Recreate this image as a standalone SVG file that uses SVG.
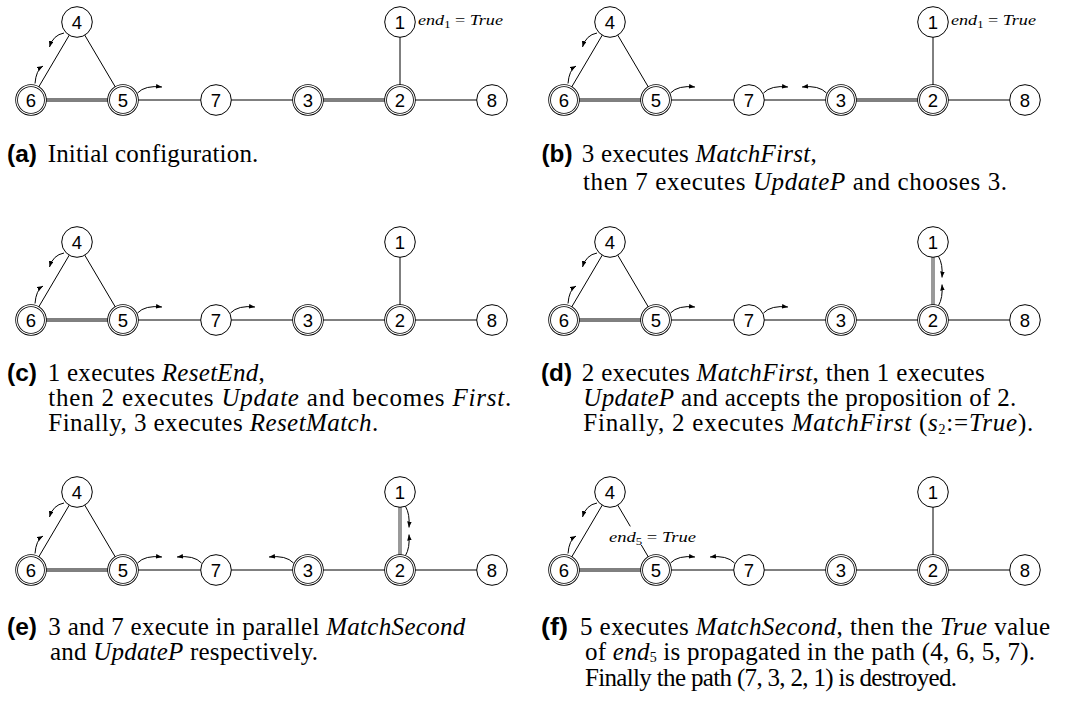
<svg xmlns="http://www.w3.org/2000/svg" width="1075" height="702" viewBox="0 0 1075 702">
<defs>
<marker id="ah" viewBox="0 0 6 4.6" refX="6" refY="2.3" markerWidth="6" markerHeight="4.6" markerUnits="userSpaceOnUse" orient="auto"><path d="M0,0 L6,2.3 L0,4.6 z" fill="#000"/></marker>
<style>
.s{fill:#fff;stroke:#000;stroke-width:1}
.d1{fill:#fff;stroke:#000;stroke-width:2.7}
.d2{fill:none;stroke:#fff;stroke-width:1.1}
.nl{font-family:"Liberation Sans",Arial,sans-serif;font-size:18.5px;text-anchor:middle;fill:#000}
.e{stroke:#000;stroke-width:1;fill:none}
.eo{stroke:#000;stroke-width:2.8}
.ei{stroke:#fff;stroke-width:1.2}
.ar{fill:none;stroke:#000;stroke-width:1;marker-end:url(#ah)}
.cap{font-family:"Liberation Serif","Times New Roman",serif;font-size:25px;fill:#000}
.lab{font-family:"Liberation Sans",Arial,sans-serif;font-weight:bold;font-size:23px;fill:#000}
.it{font-style:italic}
.sb{font-size:14px}
.math{font-family:"Liberation Serif","Times New Roman",serif;font-style:italic;font-size:14.5px;fill:#000}
.up{font-style:normal}
</style>
</defs>
<rect width="1075" height="702" fill="#fff"/>

<!-- Panel a -->
<g id="panel-a">
<g id="a-edges">
<line class="e" x1="77" y1="22" x2="31" y2="100"/>
<line class="e" x1="77" y1="22" x2="123" y2="100"/>
<line class="e" x1="123" y1="100" x2="216" y2="100"/>
<line class="e" x1="216" y1="100" x2="308" y2="100"/>
<line class="e" x1="400" y1="100" x2="492" y2="100"/>
<line class="e" x1="400" y1="22" x2="400" y2="100"/>
<line class="eo" x1="31" y1="100" x2="123" y2="100"/><line class="ei" x1="31" y1="100" x2="123" y2="100"/>
<line class="eo" x1="308" y1="100" x2="400" y2="100"/><line class="ei" x1="308" y1="100" x2="400" y2="100"/>
</g>
<g id="a-n4"><circle class="s" cx="77" cy="22" r="15.3"/><text class="nl" x="77" y="28.6">4</text></g>
<g id="a-n6"><circle class="d1" cx="31" cy="100" r="14.4"/><circle class="d2" cx="31" cy="100" r="14.4"/><text class="nl" x="31" y="106.6">6</text></g>
<g id="a-n5"><circle class="d1" cx="123" cy="100" r="14.4"/><circle class="d2" cx="123" cy="100" r="14.4"/><text class="nl" x="123" y="106.6">5</text></g>
<g id="a-n7"><circle class="s" cx="216" cy="100" r="15.3"/><text class="nl" x="216" y="106.6">7</text></g>
<g id="a-n3"><circle class="d1" cx="308" cy="100" r="14.4"/><circle class="d2" cx="308" cy="100" r="14.4"/><text class="nl" x="308" y="106.6">3</text></g>
<g id="a-n2"><circle class="d1" cx="400" cy="100" r="14.4"/><circle class="d2" cx="400" cy="100" r="14.4"/><text class="nl" x="400" y="106.6">2</text></g>
<g id="a-n8"><circle class="s" cx="492" cy="100" r="15.3"/><text class="nl" x="492" y="106.6">8</text></g>
<g id="a-n1"><circle class="s" cx="400" cy="22" r="15.3"/><text class="nl" x="400" y="28.6">1</text></g>
<g id="a-arrows">
<path class="ar" d="M64,33 Q53,35 49.5,47"/>
<path class="ar" d="M35,83.5 Q36,70 43,66"/>
<path class="ar" d="M137.5,93 Q145,85 162,87"/>
</g>
<text class="math" x="418" y="25" textLength="85" lengthAdjust="spacingAndGlyphs">end<tspan class="up" font-size="10" dy="3">1</tspan><tspan class="up" dy="-3"> = </tspan>True</text>
</g>

<!-- Panel b -->
<g id="panel-b" transform="translate(533,0)">
<g id="b-edges">
<line class="e" x1="77" y1="22" x2="31" y2="100"/>
<line class="e" x1="77" y1="22" x2="123" y2="100"/>
<line class="e" x1="123" y1="100" x2="216" y2="100"/>
<line class="e" x1="216" y1="100" x2="308" y2="100"/>
<line class="e" x1="400" y1="100" x2="492" y2="100"/>
<line class="e" x1="400" y1="22" x2="400" y2="100"/>
<line class="eo" x1="31" y1="100" x2="123" y2="100"/><line class="ei" x1="31" y1="100" x2="123" y2="100"/>
<line class="eo" x1="308" y1="100" x2="400" y2="100"/><line class="ei" x1="308" y1="100" x2="400" y2="100"/>
</g>
<g id="b-n4"><circle class="s" cx="77" cy="22" r="15.3"/><text class="nl" x="77" y="28.6">4</text></g>
<g id="b-n6"><circle class="d1" cx="31" cy="100" r="14.4"/><circle class="d2" cx="31" cy="100" r="14.4"/><text class="nl" x="31" y="106.6">6</text></g>
<g id="b-n5"><circle class="d1" cx="123" cy="100" r="14.4"/><circle class="d2" cx="123" cy="100" r="14.4"/><text class="nl" x="123" y="106.6">5</text></g>
<g id="b-n7"><circle class="s" cx="216" cy="100" r="15.3"/><text class="nl" x="216" y="106.6">7</text></g>
<g id="b-n3"><circle class="d1" cx="308" cy="100" r="14.4"/><circle class="d2" cx="308" cy="100" r="14.4"/><text class="nl" x="308" y="106.6">3</text></g>
<g id="b-n2"><circle class="d1" cx="400" cy="100" r="14.4"/><circle class="d2" cx="400" cy="100" r="14.4"/><text class="nl" x="400" y="106.6">2</text></g>
<g id="b-n8"><circle class="s" cx="492" cy="100" r="15.3"/><text class="nl" x="492" y="106.6">8</text></g>
<g id="b-n1"><circle class="s" cx="400" cy="22" r="15.3"/><text class="nl" x="400" y="28.6">1</text></g>
<g id="b-arrows">
<path class="ar" d="M64,33 Q53,35 49.5,47"/>
<path class="ar" d="M35,83.5 Q36,70 43,66"/>
<path class="ar" d="M137.5,93 Q145,85 162,87"/>
<path class="ar" d="M230.5,93 Q238,85 255,87"/>
<path class="ar" d="M293.5,93 Q286,85 269,87"/>
</g>
<text class="math" x="418" y="25" textLength="85" lengthAdjust="spacingAndGlyphs">end<tspan class="up" font-size="10" dy="3">1</tspan><tspan class="up" dy="-3"> = </tspan>True</text>
</g>

<!-- Panel c -->
<g id="panel-c" transform="translate(0,220)">
<g id="c-edges">
<line class="e" x1="77" y1="22" x2="31" y2="100"/>
<line class="e" x1="77" y1="22" x2="123" y2="100"/>
<line class="e" x1="123" y1="100" x2="216" y2="100"/>
<line class="e" x1="216" y1="100" x2="308" y2="100"/>
<line class="e" x1="308" y1="100" x2="400" y2="100"/>
<line class="e" x1="400" y1="100" x2="492" y2="100"/>
<line class="e" x1="400" y1="22" x2="400" y2="100"/>
<line class="eo" x1="31" y1="100" x2="123" y2="100"/><line class="ei" x1="31" y1="100" x2="123" y2="100"/>
</g>
<g id="c-n4"><circle class="s" cx="77" cy="22" r="15.3"/><text class="nl" x="77" y="28.6">4</text></g>
<g id="c-n6"><circle class="d1" cx="31" cy="100" r="14.4"/><circle class="d2" cx="31" cy="100" r="14.4"/><text class="nl" x="31" y="106.6">6</text></g>
<g id="c-n5"><circle class="d1" cx="123" cy="100" r="14.4"/><circle class="d2" cx="123" cy="100" r="14.4"/><text class="nl" x="123" y="106.6">5</text></g>
<g id="c-n7"><circle class="s" cx="216" cy="100" r="15.3"/><text class="nl" x="216" y="106.6">7</text></g>
<g id="c-n3"><circle class="d1" cx="308" cy="100" r="14.4"/><circle class="d2" cx="308" cy="100" r="14.4"/><text class="nl" x="308" y="106.6">3</text></g>
<g id="c-n2"><circle class="d1" cx="400" cy="100" r="14.4"/><circle class="d2" cx="400" cy="100" r="14.4"/><text class="nl" x="400" y="106.6">2</text></g>
<g id="c-n8"><circle class="s" cx="492" cy="100" r="15.3"/><text class="nl" x="492" y="106.6">8</text></g>
<g id="c-n1"><circle class="s" cx="400" cy="22" r="15.3"/><text class="nl" x="400" y="28.6">1</text></g>
<g id="c-arrows">
<path class="ar" d="M64,33 Q53,35 49.5,47"/>
<path class="ar" d="M35,83.5 Q36,70 43,66"/>
<path class="ar" d="M137.5,93 Q145,85 162,87"/>
<path class="ar" d="M230.5,93 Q238,85 255,87"/>
</g>
</g>

<!-- Panel d -->
<g id="panel-d" transform="translate(533,220)">
<g id="d-edges">
<line class="e" x1="77" y1="22" x2="31" y2="100"/>
<line class="e" x1="77" y1="22" x2="123" y2="100"/>
<line class="e" x1="123" y1="100" x2="216" y2="100"/>
<line class="e" x1="216" y1="100" x2="308" y2="100"/>
<line class="e" x1="308" y1="100" x2="400" y2="100"/>
<line class="e" x1="400" y1="100" x2="492" y2="100"/>
<line class="eo" x1="31" y1="100" x2="123" y2="100"/><line class="ei" x1="31" y1="100" x2="123" y2="100"/>
<line class="eo" x1="400" y1="22" x2="400" y2="100"/><line class="ei" x1="400" y1="22" x2="400" y2="100"/>
</g>
<g id="d-n4"><circle class="s" cx="77" cy="22" r="15.3"/><text class="nl" x="77" y="28.6">4</text></g>
<g id="d-n6"><circle class="d1" cx="31" cy="100" r="14.4"/><circle class="d2" cx="31" cy="100" r="14.4"/><text class="nl" x="31" y="106.6">6</text></g>
<g id="d-n5"><circle class="d1" cx="123" cy="100" r="14.4"/><circle class="d2" cx="123" cy="100" r="14.4"/><text class="nl" x="123" y="106.6">5</text></g>
<g id="d-n7"><circle class="s" cx="216" cy="100" r="15.3"/><text class="nl" x="216" y="106.6">7</text></g>
<g id="d-n3"><circle class="d1" cx="308" cy="100" r="14.4"/><circle class="d2" cx="308" cy="100" r="14.4"/><text class="nl" x="308" y="106.6">3</text></g>
<g id="d-n2"><circle class="d1" cx="400" cy="100" r="14.4"/><circle class="d2" cx="400" cy="100" r="14.4"/><text class="nl" x="400" y="106.6">2</text></g>
<g id="d-n8"><circle class="s" cx="492" cy="100" r="15.3"/><text class="nl" x="492" y="106.6">8</text></g>
<g id="d-n1"><circle class="s" cx="400" cy="22" r="15.3"/><text class="nl" x="400" y="28.6">1</text></g>
<g id="d-arrows">
<path class="ar" d="M64,33 Q53,35 49.5,47"/>
<path class="ar" d="M35,83.5 Q36,70 43,66"/>
<path class="ar" d="M137.5,93 Q145,85 162,87"/>
<path class="ar" d="M230.5,93 Q238,85 255,87"/>
<path class="ar" d="M405.5,36.5 Q410,44 409,57.5"/>
<path class="ar" d="M405.5,85.5 Q410,78 409,64.5"/>
</g>
</g>

<!-- Panel e -->
<g id="panel-e" transform="translate(0,470)">
<g id="e-edges">
<line class="e" x1="77" y1="22" x2="31" y2="100"/>
<line class="e" x1="77" y1="22" x2="123" y2="100"/>
<line class="e" x1="123" y1="100" x2="216" y2="100"/>
<line class="e" x1="216" y1="100" x2="308" y2="100"/>
<line class="e" x1="308" y1="100" x2="400" y2="100"/>
<line class="e" x1="400" y1="100" x2="492" y2="100"/>
<line class="eo" x1="31" y1="100" x2="123" y2="100"/><line class="ei" x1="31" y1="100" x2="123" y2="100"/>
<line class="eo" x1="400" y1="22" x2="400" y2="100"/><line class="ei" x1="400" y1="22" x2="400" y2="100"/>
</g>
<g id="e-n4"><circle class="s" cx="77" cy="22" r="15.3"/><text class="nl" x="77" y="28.6">4</text></g>
<g id="e-n6"><circle class="d1" cx="31" cy="100" r="14.4"/><circle class="d2" cx="31" cy="100" r="14.4"/><text class="nl" x="31" y="106.6">6</text></g>
<g id="e-n5"><circle class="d1" cx="123" cy="100" r="14.4"/><circle class="d2" cx="123" cy="100" r="14.4"/><text class="nl" x="123" y="106.6">5</text></g>
<g id="e-n7"><circle class="s" cx="216" cy="100" r="15.3"/><text class="nl" x="216" y="106.6">7</text></g>
<g id="e-n3"><circle class="d1" cx="308" cy="100" r="14.4"/><circle class="d2" cx="308" cy="100" r="14.4"/><text class="nl" x="308" y="106.6">3</text></g>
<g id="e-n2"><circle class="d1" cx="400" cy="100" r="14.4"/><circle class="d2" cx="400" cy="100" r="14.4"/><text class="nl" x="400" y="106.6">2</text></g>
<g id="e-n8"><circle class="s" cx="492" cy="100" r="15.3"/><text class="nl" x="492" y="106.6">8</text></g>
<g id="e-n1"><circle class="s" cx="400" cy="22" r="15.3"/><text class="nl" x="400" y="28.6">1</text></g>
<g id="e-arrows">
<path class="ar" d="M64,33 Q53,35 49.5,47"/>
<path class="ar" d="M35,83.5 Q36,70 43,66"/>
<path class="ar" d="M137.5,93 Q145,85 162,87"/>
<path class="ar" d="M201.5,93 Q194,85 177,87"/>
<path class="ar" d="M293.5,93 Q286,85 269,87"/>
<path class="ar" d="M405.5,36.5 Q410,44 409,57.5"/>
<path class="ar" d="M405.5,85.5 Q410,78 409,64.5"/>
</g>
</g>

<!-- Panel f -->
<g id="panel-f" transform="translate(533,470)">
<g id="f-edges">
<line class="e" x1="77" y1="22" x2="31" y2="100"/>
<line class="e" x1="77" y1="22" x2="97.3" y2="56.4"/>
<line class="e" x1="108.3" y1="75" x2="123" y2="100"/>
<line class="e" x1="123" y1="100" x2="216" y2="100"/>
<line class="e" x1="216" y1="100" x2="308" y2="100"/>
<line class="e" x1="308" y1="100" x2="400" y2="100"/>
<line class="e" x1="400" y1="100" x2="492" y2="100"/>
<line class="e" x1="400" y1="22" x2="400" y2="100"/>
<line class="eo" x1="31" y1="100" x2="123" y2="100"/><line class="ei" x1="31" y1="100" x2="123" y2="100"/>
</g>
<g id="f-n4"><circle class="s" cx="77" cy="22" r="15.3"/><text class="nl" x="77" y="28.6">4</text></g>
<g id="f-n6"><circle class="d1" cx="31" cy="100" r="14.4"/><circle class="d2" cx="31" cy="100" r="14.4"/><text class="nl" x="31" y="106.6">6</text></g>
<g id="f-n5"><circle class="d1" cx="123" cy="100" r="14.4"/><circle class="d2" cx="123" cy="100" r="14.4"/><text class="nl" x="123" y="106.6">5</text></g>
<g id="f-n7"><circle class="s" cx="216" cy="100" r="15.3"/><text class="nl" x="216" y="106.6">7</text></g>
<g id="f-n3"><circle class="d1" cx="308" cy="100" r="14.4"/><circle class="d2" cx="308" cy="100" r="14.4"/><text class="nl" x="308" y="106.6">3</text></g>
<g id="f-n2"><circle class="d1" cx="400" cy="100" r="14.4"/><circle class="d2" cx="400" cy="100" r="14.4"/><text class="nl" x="400" y="106.6">2</text></g>
<g id="f-n8"><circle class="s" cx="492" cy="100" r="15.3"/><text class="nl" x="492" y="106.6">8</text></g>
<g id="f-n1"><circle class="s" cx="400" cy="22" r="15.3"/><text class="nl" x="400" y="28.6">1</text></g>
<g id="f-arrows">
<path class="ar" d="M64,33 Q53,35 49.5,47"/>
<path class="ar" d="M35,83.5 Q36,70 43,66"/>
<path class="ar" d="M137.5,93 Q145,85 162,87"/>
<path class="ar" d="M201.5,93 Q194,85 177,87"/>
</g>
<text class="math" x="76" y="71.7" textLength="87" lengthAdjust="spacingAndGlyphs">end<tspan class="up" font-size="10" dy="3">5</tspan><tspan class="up" dy="-3"> = </tspan>True</text>
</g>

<!-- Captions -->
<g id="captions">
<text class="lab" x="7" y="161.5" textLength="30" lengthAdjust="spacingAndGlyphs">(a)</text>
<text class="cap" x="47.7" y="161.5" textLength="210.6" lengthAdjust="spacing">Initial configuration.</text>

<text class="lab" x="541.5" y="161.5" textLength="31" lengthAdjust="spacingAndGlyphs">(b)</text>
<text class="cap" x="581.7" y="161.5" textLength="235" lengthAdjust="spacing">3 executes <tspan class="it">MatchFirst</tspan>,</text>
<text class="cap" x="583" y="190" textLength="424" lengthAdjust="spacing">then 7 executes <tspan class="it">UpdateP</tspan> and chooses 3.</text>

<text class="lab" x="7" y="381" textLength="30" lengthAdjust="spacingAndGlyphs">(c)</text>
<text class="cap" x="47.7" y="381" textLength="217" lengthAdjust="spacing">1 executes <tspan class="it">ResetEnd</tspan>,</text>
<text class="cap" x="48.3" y="406" textLength="463" lengthAdjust="spacing">then 2 executes <tspan class="it">Update</tspan> and becomes <tspan class="it">First</tspan>.</text>
<text class="cap" x="48.3" y="431" textLength="330" lengthAdjust="spacing">Finally, 3 executes <tspan class="it">ResetMatch</tspan>.</text>

<text class="lab" x="541" y="381" textLength="31" lengthAdjust="spacingAndGlyphs">(d)</text>
<text class="cap" x="581.7" y="381" textLength="403" lengthAdjust="spacing">2 executes <tspan class="it">MatchFirst</tspan>, then 1 executes</text>
<text class="cap" x="583.3" y="406" textLength="433" lengthAdjust="spacing"><tspan class="it">UpdateP</tspan> and accepts the proposition of 2.</text>
<text class="cap" x="583.3" y="431" textLength="450" lengthAdjust="spacing">Finally, 2 executes <tspan class="it">MatchFirst</tspan> (<tspan class="it">s</tspan><tspan class="sb" dy="2.5">2</tspan><tspan dy="-2.5">:=</tspan><tspan class="it">True</tspan>).</text>

<text class="lab" x="7" y="634.5" textLength="30" lengthAdjust="spacingAndGlyphs">(e)</text>
<text class="cap" x="48.3" y="634.5" textLength="417" lengthAdjust="spacing">3 and 7 execute in parallel <tspan class="it">MatchSecond</tspan></text>
<text class="cap" x="50" y="659.5" textLength="268" lengthAdjust="spacing">and <tspan class="it">UpdateP</tspan> respectively.</text>

<text class="lab" x="541" y="634.5" textLength="27" lengthAdjust="spacingAndGlyphs">(f)</text>
<text class="cap" x="580" y="634.5" textLength="470" lengthAdjust="spacing">5 executes <tspan class="it">MatchSecond</tspan>, then the <tspan class="it">True</tspan> value</text>
<text class="cap" x="585" y="659.5" textLength="450" lengthAdjust="spacing">of <tspan class="it">end</tspan><tspan class="sb" dy="2">5</tspan><tspan dy="-2"> is propagated in the path (4, 6, 5, 7).</tspan></text>
<text class="cap" x="585" y="685.5" textLength="372" lengthAdjust="spacing">Finally the path (7, 3, 2, 1) is destroyed.</text>
</g>
</svg>
